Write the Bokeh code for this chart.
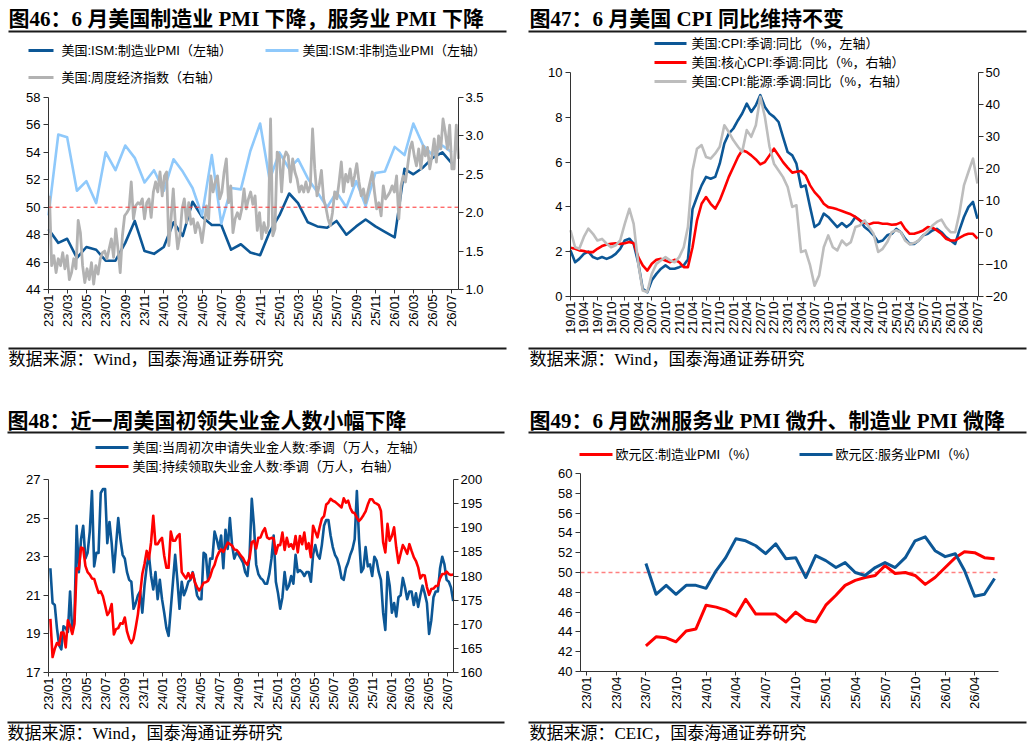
from datetime import datetime
from math import pi

import pandas as pd
from bokeh.embed import file_html
from bokeh.layouts import column, row
from bokeh.models import (BoxAnnotation, DatetimeAxis, DatetimeTickFormatter, FixedTicker,
                          Label, LinearAxis, NumeralTickFormatter, Range1d)
from bokeh.plotting import figure
from bokeh.resources import INLINE

# ---------------------------------------------------------------- palette / fonts
NAVY = "#0C5796"
SKY = "#8FC9FB"
GREY = "#B2B2B2"
GREY2 = "#BDBDBD"
RED = "#FF0000"
INK = "#000000"
AXIS = "#333333"
RULE = "#1A1A1A"
SANS = "Liberation Sans, Noto Sans CJK SC"
SERIF = "Liberation Serif, Noto Sans CJK SC"
PW, PH = 516, 373
PMI_NEUTRAL = 50

# ---------------------------------------------------------------- 图46 data
ism_start = "2023-01-01"
ism_manufacturing = [48.4, 47.4, 47.7, 46.3, 47.1, 46.9, 46.1, 46.1, 47.4, 49.0,
                     46.8, 46.6, 47.1, 48.9, 47.9, 50.4, 49.3, 48.7, 48.7, 46.9,
                     47.3, 46.7, 46.5, 48.2, 49.4, 51.0, 50.3, 48.9, 48.6, 48.5,
                     49.0, 48.0, 48.6, 49.1, 48.6, 48.2, 47.8, 52.8, 52.4, 52.9,
                     53.6, 54.0, 53.2]
ism_services = [49.4, 55.3, 55.1, 51.2, 51.9, 50.3, 54.0, 52.7, 54.5, 53.6,
                51.8, 52.7, 51.2, 53.5, 52.6, 51.4, 49.4, 53.8, 48.8, 51.4,
                51.3, 54.1, 56.1, 52.0, 54.0, 52.8, 53.5, 52.1, 51.1, 50.0,
                51.1, 50.0, 51.9, 50.1, 52.5, 52.6, 54.4, 53.8, 56.1, 54.5,
                53.8, 54.5, 54.0]
wei_start = "2023-01-04"
weekly_economic_index = [
    2.22, 1.31, 1.44, 1.22, 1.40, 1.31, 1.48, 1.27, 1.44, 1.13,
    1.22, 1.40, 1.27, 1.90, 1.74, 1.31, 1.09, 1.27, 1.13, 1.35,
    1.07, 1.31, 1.20, 1.40, 1.48, 1.50, 1.40, 1.53, 1.66, 1.42,
    1.79, 1.53, 1.22, 1.70, 1.96, 2.00, 2.05, 2.40, 1.92, 2.09,
    2.13, 2.11, 2.18, 1.92, 2.13, 2.18, 1.94, 2.27, 2.40, 2.27,
    2.53, 2.22, 2.48, 2.53, 1.57, 1.92, 2.31, 1.83, 1.53, 1.70,
    2.05, 2.18, 1.87, 2.13, 1.85, 1.92, 1.74, 1.87, 1.79, 1.61,
    1.83, 2.09, 1.92, 2.48, 2.27, 2.40, 2.48, 2.18, 2.27, 2.53,
    2.70, 2.13, 2.35, 1.74, 1.92, 2.00, 1.92, 2.05, 2.31, 2.05,
    2.18, 2.27, 2.11, 2.22,
    1.77, 2.00, 1.66, 1.87, 1.74, 1.83, 3.22, 1.70, 1.79, 2.79,
    2.74, 2.27, 2.70, 2.79, 2.74, 2.40, 2.70, 2.53, 2.44, 2.27,
    2.35, 2.27, 2.40, 2.27, 2.35, 3.09, 2.57, 2.22, 2.35, 2.55,
    2.18, 2.07, 1.92, 1.83, 2.00, 2.27, 2.18, 2.40, 2.66, 2.27,
    2.50, 2.40, 2.57, 2.35, 2.48, 2.64, 2.40, 2.22, 2.31, 2.13,
    2.27, 2.40, 2.53, 2.27, 2.05, 2.13, 1.96, 2.35, 2.18, 2.22,
    2.27, 2.35, 2.27, 2.48, 1.92, 2.35, 2.48, 2.40, 2.61, 2.83,
    2.92, 2.74, 2.61, 2.83, 2.57, 2.87, 2.74, 2.85, 2.57, 2.74,
    2.96, 2.66, 3.00, 2.83, 3.22, 3.05, 2.83, 3.14, 2.57, 2.57,
    3.14, 2.70]

# ---------------------------------------------------------------- 图47 data
cpi_start = "2019-01-01"
cpi_headline = [2.06, 1.53, 1.68, 1.90, 2.00, 1.76, 1.68, 1.76, 1.68, 1.76,
                1.90, 2.13, 2.50, 2.58, 2.35, 1.50, 0.34, 0.19, 0.72, 1.01,
                1.24, 1.39, 1.24, 1.24, 1.31, 1.39, 1.65, 3.90, 4.44, 4.96,
                5.34, 5.26, 5.34, 5.93, 6.83, 7.27, 7.50, 7.87, 8.17, 8.61,
                8.24, 8.54, 8.99, 8.46, 8.17, 8.02, 7.79, 7.12, 6.45, 6.30,
                5.93, 4.89, 4.96, 3.99, 3.10, 3.25, 3.70, 3.55, 3.32, 3.10,
                3.28, 3.10, 3.25, 3.55, 3.40, 3.10, 2.95, 2.73, 2.43, 2.50,
                2.73, 2.80, 3.02, 2.87, 2.58, 2.35, 2.35, 2.50, 2.73, 2.80,
                2.95, 3.02, 2.87, 2.65, 2.50, 2.35, 2.95, 3.55, 3.99, 4.22,
                3.47]
cpi_core = [2.18, 2.13, 2.06, 2.03, 1.98, 1.98, 2.13, 2.25, 2.32, 2.35,
            2.38, 2.35, 2.38, 2.43, 2.38, 1.76, 1.39, 1.16, 1.46, 1.64,
            1.68, 1.61, 1.53, 1.64, 1.53, 1.31, 1.31, 2.20, 3.40, 4.14,
            4.44, 4.14, 3.92, 4.29, 4.81, 5.34, 5.78, 6.23, 6.53, 6.45,
            6.30, 6.12, 5.90, 6.00, 6.30, 6.60, 6.30, 6.00, 5.75, 5.53,
            5.57, 5.60, 5.41, 4.96, 4.66, 4.44, 4.14, 3.99, 3.95, 3.89,
            3.82, 3.74, 3.67, 3.55, 3.40, 3.29, 3.22, 3.29, 3.29, 3.25,
            3.25, 3.20, 3.22, 3.31, 3.02, 2.80, 2.80, 2.87, 2.95, 3.10,
            3.07, 2.95, 2.80, 2.58, 2.50, 2.50, 2.62, 2.73, 2.80, 2.80,
            2.58]
cpi_energy = [0.7, -4.6, -5.1, -1.4, 1.2, -0.4, -2.5, -2.0, -3.5, -4.6,
              -4.0, -2.5, 2.7, 7.4, 2.7, -9.8, -18.1, -18.6, -12.9, -9.8,
              -8.7, -7.7, -8.7, -9.3, -7.7, -4.6, 1.7, 19.4, 26.2, 27.3,
              23.6, 23.1, 24.7, 26.8, 33.5, 31.4, 28.8, 26.8, 25.2, 32.0,
              29.9, 33.5, 42.4, 36.1, 26.8, 21.5, 19.4, 17.3, 14.2, 8.0,
              8.5, -6.1, -5.6, -10.3, -16.6, -13.4, -4.6, -0.9, -4.6, -5.6,
              -2.5, -4.0, -3.0, 1.7, 2.2, 3.8, 1.7, -0.4, -6.1, -5.1,
              -3.0, 0.1, 0.7, 0.1, -2.5, -3.7, -3.3, -2.5, -0.9, 0.4,
              2.2, 3.3, 4.0, 1.7, 0.1, 0.1, 5.9, 14.7, 18.9, 23.1,
              15.3]

# ---------------------------------------------------------------- 图48 data
claims_start = "2023-01-07"
initial_claims = [
    22.4, 20.6, 20.5, 19.3, 18.4, 18.2, 19.4, 19.3, 19.1, 21.2,
    19.1, 19.8, 24.6, 22.2, 23.9, 24.6, 22.9, 23.2, 24.3, 26.4,
    22.5, 23.2, 23.2, 26.3, 26.5, 26.5, 23.7, 24.8, 23.7, 22.2,
    23.6, 25.0, 23.9, 23.1, 22.9, 22.2, 21.8, 21.7, 20.3, 20.6,
    21.0, 21.2, 20.1, 21.5, 22.5, 23.1, 22.0, 21.3, 22.2, 20.8,
    21.8, 20.8, 20.1, 19.3, 18.9, 20.3, 21.7, 23.1, 21.8, 20.3,
    21.7, 21.0, 21.3, 21.7, 21.8, 22.2, 21.7, 21.0, 20.8, 20.8,
    23.2, 23.1, 21.8, 22.9, 22.9, 24.3, 23.9, 23.4, 24.1, 22.4,
    24.4, 23.4, 25.0, 23.6, 22.9, 23.2, 23.1, 22.9, 22.7, 22.2,
    22.0, 23.1, 26.0,
    24.6, 22.6, 22.1, 21.9, 21.8, 21.6, 21.6, 22.1, 22.9, 24.1,
    21.7, 21.1, 20.3, 20.9, 22.2, 21.3, 21.5, 22.0, 21.6, 23.1,
    22.2, 22.3, 22.2, 22.0, 22.2, 22.2, 21.7, 23.1, 23.6, 23.1,
    22.9, 23.6, 24.6, 24.9, 24.9, 24.1, 23.5, 23.1, 22.9, 22.5,
    21.9, 21.8, 22.4, 22.7, 23.1, 23.4, 23.9, 26.4, 23.9, 22.2,
    22.4, 23.5, 22.5, 22.6, 22.0, 23.0, 22.8, 22.2, 21.8, 20.1,
    19.2, 22.2, 21.5, 20.1, 20.6, 19.9, 20.9, 21.0, 21.9, 21.4,
    20.8, 21.2, 21.2, 20.5, 21.1, 20.4, 21.0, 21.5, 21.1, 20.6,
    19.0, 19.7, 20.9, 21.2, 21.2, 22.4, 23.0, 22.6, 21.8, 21.7,
    21.4, 20.7]
continuing_claims = [
    171.1, 163.2, 164.9, 166.1, 165.7, 168.3, 168.3, 165.2, 170.8, 169.7,
    168.0, 170.1, 181.6, 181.4, 185.9, 185.7, 182.1, 180.8, 180.3, 179.5,
    179.4, 177.9, 176.5, 176.8, 175.8, 173.9, 171.9, 172.6, 174.2, 167.9,
    169.0, 169.2, 170.2, 170.1, 171.4, 168.5, 167.0, 166.1, 167.0, 169.4,
    172.1, 176.3, 180.4, 182.5, 185.2, 183.5, 187.0, 192.5, 186.6, 186.6,
    187.4, 187.9, 184.2, 181.7, 181.7, 189.2, 187.3, 187.3, 188.2, 188.7,
    180.8, 180.1, 179.5, 180.6, 179.5, 180.6, 178.7, 177.7, 177.0, 177.7,
    178.6, 178.7, 179.0, 179.9, 181.4, 182.3, 183.9, 184.9, 185.5, 185.0,
    185.9, 186.9, 186.6, 186.3, 185.5, 185.4, 184.9, 184.2, 183.7, 182.8,
    182.3, 183.7, 187.0,
    187.3, 185.7, 187.9, 188.0, 189.2, 189.9, 188.0, 187.7, 187.9, 187.8,
    184.6, 186.4, 186.4, 189.0, 185.4, 187.9, 186.1, 186.6, 185.6, 188.3,
    184.9, 188.3, 186.6, 189.0, 185.6, 186.8, 183.9, 190.4, 189.2, 188.0,
    190.1, 191.9, 192.4, 194.8, 195.2, 196.0, 195.6, 195.4, 195.0, 194.6,
    194.2, 196.1, 195.2, 195.6, 194.1, 193.2, 193.0, 192.1, 191.4, 191.9,
    192.6, 193.4, 194.8, 195.9, 195.9, 195.2, 195.0, 194.7, 193.5, 187.0,
    184.9, 190.8, 187.3, 188.3, 190.1, 185.9, 182.7, 184.6, 186.4, 185.6,
    184.6, 186.6, 185.2, 183.9, 183.1, 181.8, 179.5, 180.2, 180.1, 177.7,
    176.1, 177.3, 177.4, 177.9, 178.0, 179.5, 180.4, 180.4, 180.9, 180.4,
    180.2, 180.3]

# ---------------------------------------------------------------- 图49 data
ez_start = "2023-07-01"
ez_manufacturing = [42.6, 43.5, 43.4, 43.0, 44.1, 44.3, 46.7, 46.5, 46.2, 45.6,
                    47.3, 45.8, 45.8, 45.8, 45.0, 46.0, 45.2, 45.0, 46.7, 47.7,
                    48.7, 49.2, 49.5, 49.7, 50.7, 49.9, 50.0, 49.7, 48.8, 49.5,
                    50.5, 51.5, 52.1, 52.0, 51.5, 51.4]
ez_services = [50.9, 47.8, 48.7, 47.8, 48.7, 48.7, 48.4, 50.2, 51.5, 53.4,
               53.2, 52.7, 51.9, 52.9, 51.4, 51.5, 49.5, 51.7, 51.2, 50.5,
               51.0, 50.0, 49.7, 50.5, 51.0, 50.5, 51.5, 53.2, 53.6, 52.2,
               51.6, 51.9, 50.2, 47.6, 47.8, 49.4]

# ---------------------------------------------------------------- texts
titles = ["图46：6 月美国制造业 PMI 下降，服务业 PMI 下降",
          "图47：6 月美国 CPI 同比维持不变",
          "图48：近一周美国初领失业金人数小幅下降",
          "图49：6 月欧洲服务业 PMI 微升、制造业 PMI 微降"]
legend46 = ["美国:ISM:制造业PMI（左轴）", "美国:ISM:非制造业PMI（左轴）", "美国:周度经济指数（右轴）"]
legend47 = ["美国:CPI:季调:同比（%，左轴）", "美国:核心CPI:季调:同比（%，右轴）",
            "美国:CPI:能源:季调:同比（%，右轴）"]
legend48 = ["美国:当周初次申请失业金人数:季调（万人，左轴）", "美国:持续领取失业金人数:季调（万人，右轴）"]
legend49 = ["欧元区:制造业PMI（%）", "欧元区:服务业PMI（%）"]
source_wind = "数据来源：Wind，国泰海通证券研究"
source_ceic = "数据来源：CEIC，国泰海通证券研究"


# ---------------------------------------------------------------- helpers
def ms(d):
    return pd.Timestamp(d).value / 1e6


def style_axis(ax, tick_out=5, standoff=3):
    ax.axis_line_color = AXIS
    ax.axis_line_width = 1
    ax.major_tick_line_color = AXIS
    ax.major_tick_out = tick_out
    ax.major_tick_in = 0
    ax.minor_tick_line_color = None
    ax.major_label_text_font = "Liberation Sans"
    ax.major_label_text_font_size = "13px"
    ax.major_label_text_color = INK
    ax.major_label_standoff = standoff


def span_range(lo, hi, p_lo, p_hi, p_min, p_max):
    """Range covering pixels [p_min, p_max] when lo sits at p_lo and hi at p_hi."""
    per_px = (hi - lo) / (p_hi - p_lo)
    return Range1d(lo + (p_min - p_lo) * per_px, lo + (p_max - p_lo) * per_px)


class Panel:
    """One 516x373 chart block; the plot frame fills the block and the axes are pinned inside it."""

    def __init__(self, frame, t0, t1, ylim, xticks, yticks):
        L, T, R, B = frame
        self.frame = frame
        self.t0, self.t1 = ms(t0), ms(t1)
        lo, hi = ylim
        p = figure(width=PW, height=PH,
                   x_range=span_range(self.t0, self.t1, L, R, 0, PW),
                   y_range=span_range(lo, hi, B, T, PH, 0),
                   min_border=0, x_axis_location=None, y_axis_location=None, title=None,
                   output_backend="svg", toolbar_location=None)
        p.outline_line_color = None
        p.grid.visible = False
        p.background_fill_color = "white"
        p.border_fill_color = "white"
        fmt = "%y/%m"
        xa = DatetimeAxis(fixed_location=lo, bounds=(self.t0, self.t1),
                          ticker=FixedTicker(ticks=[ms(t) for t in xticks]),
                          formatter=DatetimeTickFormatter(
                              years=fmt, months=fmt, days=fmt, hours=fmt, hourmin=fmt,
                              minutes=fmt, minsec=fmt, seconds=fmt, milliseconds=fmt,
                              microseconds=fmt))
        xa.major_label_orientation = pi / 2
        style_axis(xa, tick_out=4, standoff=1)
        p.add_layout(xa, "below")
        ya = LinearAxis(fixed_location=self.t0, bounds=(lo, hi), ticker=FixedTicker(ticks=yticks))
        style_axis(ya)
        p.add_layout(ya, "left")
        self.fig = p

    def right_axis(self, ylim, ticks, fmt=None):
        L, T, R, B = self.frame
        lo, hi = ylim
        self.fig.extra_y_ranges = {"right": span_range(lo, hi, B, T, PH, 0)}
        ax = LinearAxis(y_range_name="right", fixed_location=self.t1, bounds=(lo, hi),
                        ticker=FixedTicker(ticks=ticks))
        if fmt:
            ax.formatter = NumeralTickFormatter(format=fmt)
        style_axis(ax, standoff=2)
        self.fig.add_layout(ax, "right")

    def ref_line(self, level, color, width):
        self.fig.segment(x0=[self.t0], x1=[self.t1], y0=[level], y1=[level],
                         line_color=color, line_width=width, line_dash="4 3")

    # ---- decorations, positioned in block pixels (origin top-left)
    def text(self, x, y, txt, size, font, bold=False):
        self.fig.add_layout(Label(x=x, y=PH - y, x_units="screen", y_units="screen",
                                  text=txt, text_font=font, text_font_size=f"{size}px",
                                  text_font_style="bold" if bold else "normal",
                                  text_color=INK, text_align="left", text_baseline="middle"))

    def bar(self, x0, x1, yc, thick, color):
        self.fig.add_layout(BoxAnnotation(left=x0, right=x1,
                                          top=PH - (yc - thick / 2), bottom=PH - (yc + thick / 2),
                                          left_units="screen", right_units="screen",
                                          top_units="screen", bottom_units="screen",
                                          fill_color=color, fill_alpha=1.0, line_color=None,
                                          level="overlay"))

    def legend(self, x0, x1, y, color, txt, tx):
        self.bar(x0, x1, y, 3, color)
        self.text(tx, y, txt, 13, SANS)

    def frame_text(self, title, title_y, rule_x, rule_top, rule_bottom, source, text_x):
        self.text(text_x, title_y, title, 21, SERIF, bold=True)
        self.bar(rule_x[0], rule_x[1], rule_top, 2, RULE)
        self.bar(rule_x[0], rule_x[1], rule_bottom, 2, RULE)
        self.text(text_x, rule_bottom + 11, source, 17, SERIF)


LW = 2.6

# ---------------------------------------------------------------- 图46
a = Panel((48, 97, 458, 289), "2023-01-01", "2026-07-22", (44, 58),
          pd.date_range("2023-01-01", "2026-07-01", freq="2MS"), list(range(44, 59, 2)))
a.right_axis((1.0, 3.5), [1.0, 1.5, 2.0, 2.5, 3.0, 3.5], fmt="0.0")
ism_dates = pd.date_range(ism_start, periods=len(ism_manufacturing), freq="MS")
wei_dates = pd.date_range(wei_start, periods=len(weekly_economic_index), freq="7D")
a.fig.line(ism_dates, ism_manufacturing, line_color=NAVY, line_width=LW, line_join="round")
a.fig.line(ism_dates, ism_services, line_color=SKY, line_width=LW, line_join="round")
a.fig.line(wei_dates, weekly_economic_index, y_range_name="right", line_color=GREY,
           line_width=2.8, line_join="round")
a.ref_line(PMI_NEUTRAL, "#FF3030", 1)
a.frame_text(titles[0], 18, (8, 506), 31, 348, source_wind, 8)
a.legend(28, 53, 50, NAVY, legend46[0], 61)
a.legend(265, 298, 50, SKY, legend46[1], 302)
a.legend(28, 53, 77, GREY, legend46[2], 61)

# ---------------------------------------------------------------- 图47
b = Panel((54, 72, 462, 296), "2019-01-01", "2026-07-08", (0, 10),
          pd.date_range("2019-01-01", "2026-07-01", freq="3MS"), list(range(0, 11, 2)))
b.right_axis((-20, 50), list(range(-20, 51, 10)))
cpi_dates = pd.date_range(cpi_start, periods=len(cpi_headline), freq="MS")
b.fig.line(cpi_dates, cpi_headline, line_color=NAVY, line_width=LW, line_join="round")
b.fig.line(cpi_dates, cpi_core, line_color=RED, line_width=LW, line_join="round")
b.fig.line(cpi_dates, cpi_energy, y_range_name="right", line_color=GREY2, line_width=LW,
           line_join="round")
b.frame_text(titles[1], 18, (12, 510), 31, 348, source_wind, 13)
b.legend(138, 170, 43, NAVY, legend47[0], 175)
b.legend(138, 170, 62, RED, legend47[1], 175)
b.legend(138, 170, 81, GREY2, legend47[2], 175)

# ---------------------------------------------------------------- 图48
c = Panel((48, 106, 453, 299), "2023-01-01", "2026-07-19", (17, 27),
          pd.date_range("2023-01-01", "2026-07-01", freq="2MS"), list(range(17, 28, 2)))
c.right_axis((160, 200), list(range(160, 201, 5)))
claims_dates = pd.date_range(claims_start, periods=len(initial_claims), freq="7D")
c.fig.line(claims_dates, initial_claims, line_color=NAVY, line_width=LW, line_join="round")
c.fig.line(claims_dates, continuing_claims, y_range_name="right", line_color=RED,
           line_width=LW, line_join="round")
c.frame_text(titles[2], 47, (7, 504), 59, 349, source_wind, 7)
c.legend(95, 128, 74, NAVY, legend48[0], 132)
c.legend(95, 128, 93, RED, legend48[1], 132)

# ---------------------------------------------------------------- 图49
d = Panel((64, 100, 482, 298), "2022-12-13", "2026-06-13", (40, 60),
          pd.date_range("2023-01-01", "2026-04-01", freq="3MS"), list(range(40, 61, 2)))
ez_dates = pd.date_range(ez_start, periods=len(ez_manufacturing), freq="MS")
d.ref_line(PMI_NEUTRAL, "#FF8080", 1.5)
d.fig.line(ez_dates, ez_manufacturing, line_color=RED, line_width=3, line_join="round")
d.fig.line(ez_dates, ez_services, line_color=NAVY, line_width=3, line_join="round")
d.frame_text(titles[3], 47, (12, 510), 59, 349, source_ceic, 13)
d.legend(63, 96, 81, RED, legend49[0], 99)
d.legend(283, 316, 81, NAVY, legend49[1], 319)

layout = column(row(a.fig, b.fig), row(c.fig, d.fig))
open("out.html", "w").write(file_html(layout, INLINE))
